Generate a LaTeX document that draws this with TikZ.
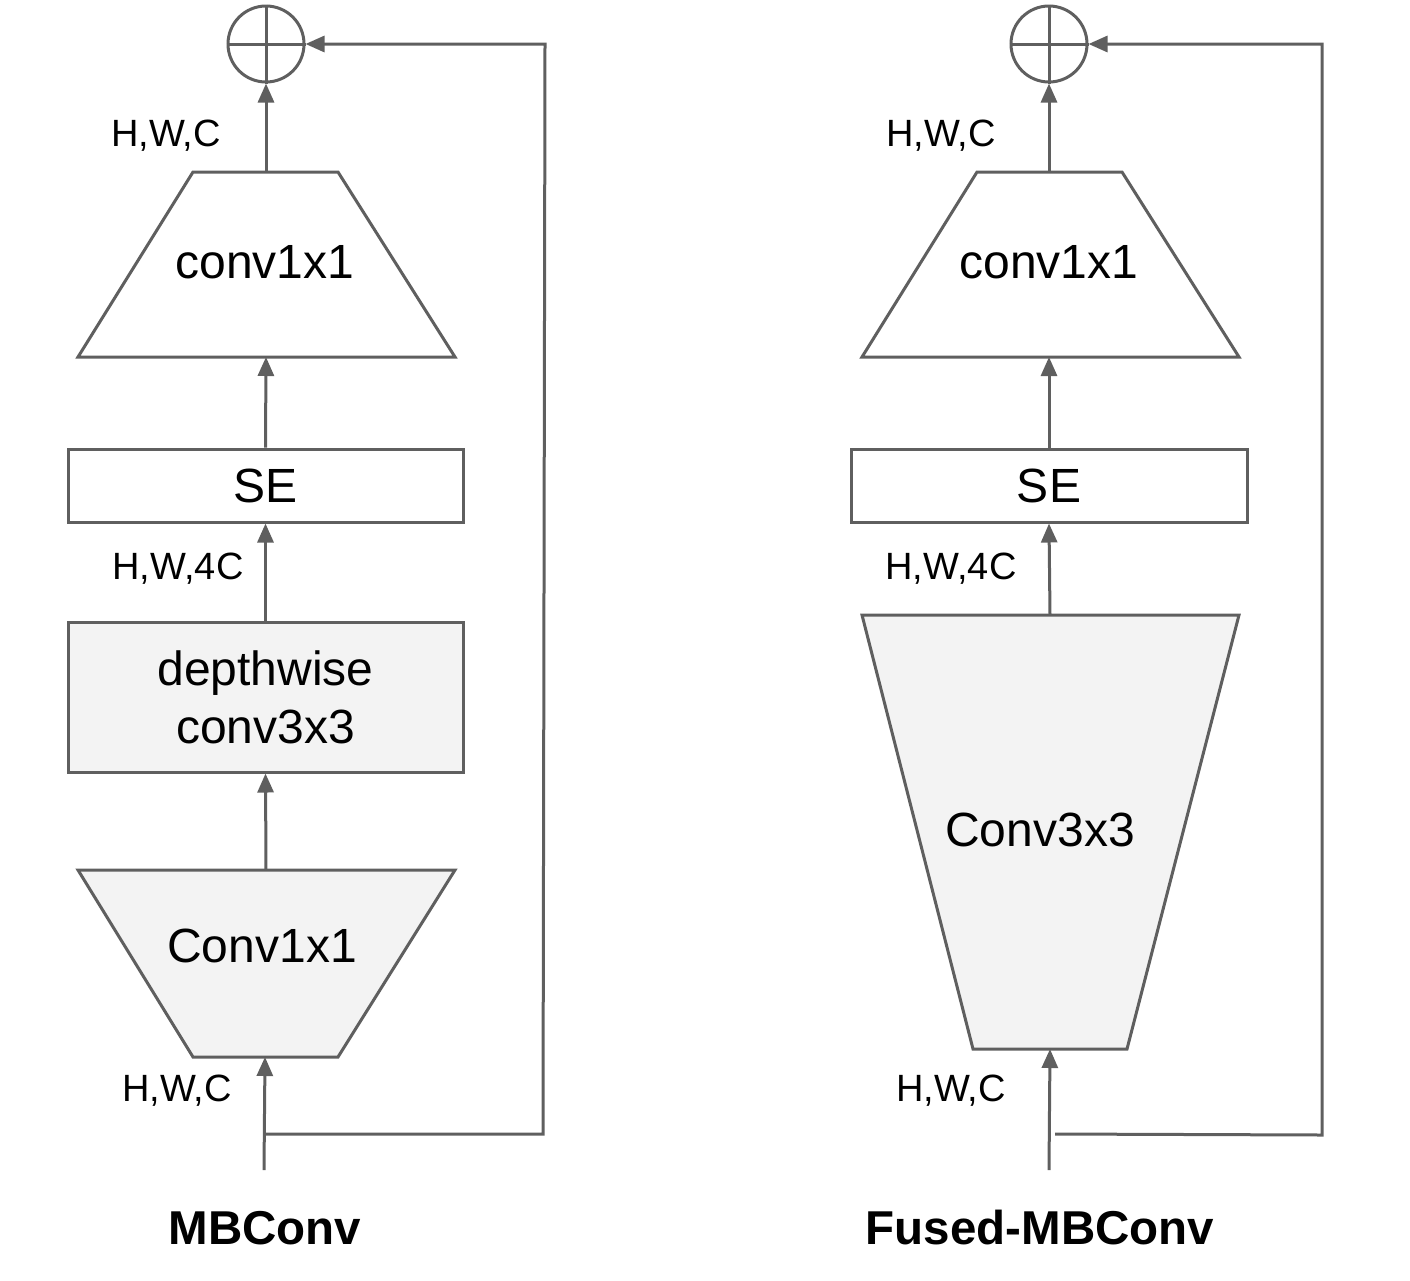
\documentclass[tikz,border=0pt]{standalone}
\usepackage{fontspec}
\setmainfont{Liberation Sans}
\usetikzlibrary{arrows.meta}
\definecolor{lc}{HTML}{5F5F5F}
\definecolor{fl}{HTML}{F3F3F3}
\tikzset{
  ln/.style={draw=lc, line width=3pt, line join=miter},
  arr/.style={ln, -{Triangle[length=19pt,width=16pt]}},
  blk/.style={ln},
  big/.style={font=\fontsize{48}{58}\selectfont, text=black, align=center},
  dim/.style={font=\fontsize{38}{44}\selectfont, text=black},
  ttl/.style={font=\fontsize{47.5}{56}\selectfont\bfseries, text=black},
  sumc/.style={circle, ln, minimum size=76pt, inner sep=0pt}
}
\begin{document}
\begin{tikzpicture}[x=1pt,y=-1pt]
\useasboundingbox (0,0) rectangle (1410,1280);
% ---------------- MBConv ----------------
\node[sumc] (sumA) at (266,44) {};
\draw[ln] (sumA.north) -- (sumA.south) (sumA.west) -- (sumA.east);
% top conv1x1 trapezoid
\draw[blk, fill=white] (193,172) -- (338,172) -- (455,357) -- (78,357) -- cycle;
\coordinate (tA1t) at (266,172); \coordinate (tA1b) at (266,357);
\node[big] (cA1) at (265,262) {conv1x1};
% SE
\node[blk, fill=white, minimum width=395pt, minimum height=73pt, inner sep=0pt, big] (seA) at (265.5,485.5) {SE};
% depthwise
\node[blk, fill=fl, minimum width=395pt, minimum height=150pt, inner sep=0pt, big] (dwA) at (265.5,697) {depthwise\\conv3x3};
% bottom Conv1x1 trapezoid
\draw[blk, fill=fl] (78,870) -- (455,870) -- (338,1057) -- (193,1057) -- cycle;
\coordinate (tA2t) at (266,870); \coordinate (tA2b) at (265,1057);
\node[big] (cA2) at (262,946) {Conv1x1};
% connectors
\draw[arr] (tA1t) -- (sumA.south);
\draw[arr] (seA.north) -- (tA1b);
\draw[arr] (dwA.north) -- (seA.south);
\draw[arr] (tA2t) -- (dwA.south);
\coordinate (inA) at (264,1170);
\coordinate (brA) at (265,1134);
\coordinate (skA1) at (543,1134);
\coordinate (skA2) at (545,44);
\draw[arr] (inA) -- (tA2b);
\draw[arr] (brA) -- (skA1) -- (skA2) -- (sumA.east);
% labels
\node[dim] (lA1) at (166,136) {H,W,C};
\node[dim] (lA2) at (178,569) {H,W,4C};
\node[dim] (lA3) at (177,1091) {H,W,C};
\node[ttl] (tA) at (265,1228) {MBConv};
% ---------------- Fused-MBConv ----------------
\node[sumc] (sumB) at (1049,44) {};
\draw[ln] (sumB.north) -- (sumB.south) (sumB.west) -- (sumB.east);
\draw[blk, fill=white] (977,172) -- (1122,172) -- (1239,357) -- (862,357) -- cycle;
\coordinate (tB1t) at (1049,172); \coordinate (tB1b) at (1049,357);
\node[big] (cB1) at (1049,262) {conv1x1};
\node[blk, fill=white, minimum width=396pt, minimum height=73pt, inner sep=0pt, big] (seB) at (1049,485.5) {SE};
\draw[blk, fill=fl] (862,615) -- (1239,615) -- (1127,1049) -- (973,1049) -- cycle;
\coordinate (tB2t) at (1050,615); \coordinate (tB2b) at (1050,1049);
\node[big] (cB2) at (1040,830) {Conv3x3};
\draw[arr] (tB1t) -- (sumB.south);
\draw[arr] (seB.north) -- (tB1b);
\draw[arr] (tB2t) -- (seB.south);
\coordinate (inB) at (1049,1170);
\coordinate (brB) at (1055,1134);
\coordinate (skB1) at (1322,1135);
\coordinate (skB2) at (1322,44);
\draw[arr] (inB) -- (tB2b);
\draw[arr] (brB) -- (skB1) -- (skB2) -- (sumB.east);
\node[dim] (lB1) at (941,136) {H,W,C};
\node[dim] (lB2) at (951,569) {H,W,4C};
\node[dim] (lB3) at (951,1091) {H,W,C};
\node[ttl] (tB) at (1040,1228) {Fused-MBConv};
\end{tikzpicture}
\end{document}
